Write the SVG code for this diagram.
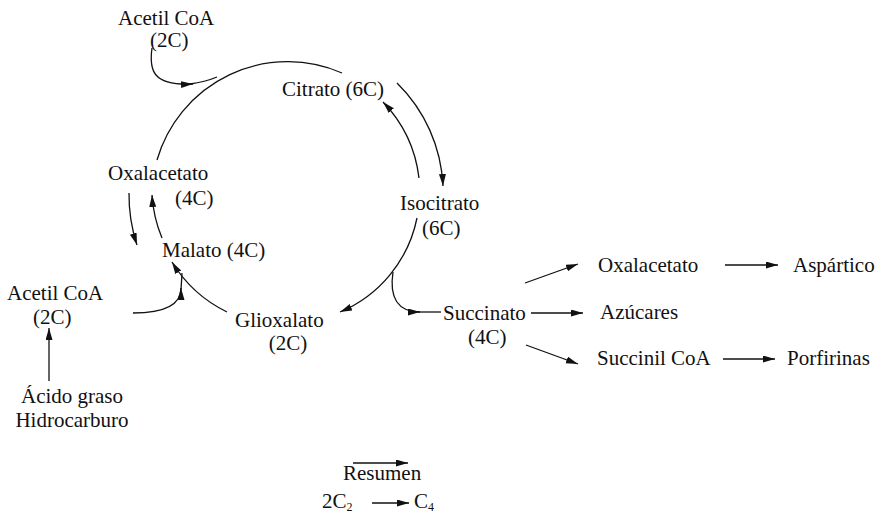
<svg xmlns="http://www.w3.org/2000/svg" width="883" height="515" viewBox="0 0 883 515">
<style>
text{font-family:"Liberation Serif","DejaVu Serif",serif;font-size:21px;fill:#111}
.c{fill:none;stroke:#111;stroke-width:1.3}
.sub{font-size:12px}
</style>
<defs>
<marker id="ah" markerUnits="userSpaceOnUse" markerWidth="13" markerHeight="8" refX="12" refY="3.5" orient="auto">
<path d="M0,0 L12,3.5 L0,7 Z" fill="#111"/>
</marker>
</defs>
<rect width="883" height="515" fill="#fff"/>
<g id="connectors">
<path class="c" d="M157,160 A136,136 0 0 1 342,73"/>
<path class="c" d="M152,48 C149,70 152,86 193,84" marker-end="url(#ah)"/>
<path class="c" d="M190,84 Q205,82 217,77"/>
<path class="c" d="M397,83 A154,154 0 0 1 443,186" marker-end="url(#ah)"/>
<path class="c" d="M419,178 A132,132 0 0 0 383,102" marker-end="url(#ah)"/>
<path class="c" d="M417,218 A130,130 0 0 1 340,312" marker-end="url(#ah)"/>
<path class="c" d="M393,272 C389,298 398,312 420,312" marker-end="url(#ah)"/>
<path class="c" d="M418,312 L441,312"/>
<path class="c" d="M227,312 A133,133 0 0 1 172,262" marker-end="url(#ah)"/>
<path class="c" d="M162,238 A133,133 0 0 1 152,195" marker-end="url(#ah)"/>
<path class="c" d="M129,193 A160,160 0 0 0 137,245" marker-end="url(#ah)"/>
<path class="c" d="M133,313 C162,313 181,306 181,288" marker-end="url(#ah)"/>
<path class="c" d="M181,290 L182,273"/>
<path class="c" d="M49,381 L49,328" marker-end="url(#ah)"/>
<path class="c" d="M525,283 L578,264" marker-end="url(#ah)"/>
<path class="c" d="M531,313 L583,313" marker-end="url(#ah)"/>
<path class="c" d="M526,345 L578,364" marker-end="url(#ah)"/>
<path class="c" d="M725,265 L778,265" marker-end="url(#ah)"/>
<path class="c" d="M723,359 L775,359" marker-end="url(#ah)"/>
<path class="c" d="M353,463 L408,463" marker-end="url(#ah)"/>
<path class="c" d="M372,503 L409,503" marker-end="url(#ah)"/>
</g>
<g id="acetilcoa-top"><text x="118" y="25">Acetil CoA</text><text x="150" y="47">(2C)</text></g>
<g id="citrato"><text x="282" y="96">Citrato (6C)</text></g>
<g id="isocitrato"><text x="400" y="210">Isocitrato</text><text x="422" y="235">(6C)</text></g>
<g id="oxalacetato"><text x="108" y="180">Oxalacetato</text><text x="175" y="205">(4C)</text></g>
<g id="malato"><text x="162" y="257">Malato (4C)</text></g>
<g id="glioxalato"><text x="235" y="327">Glioxalato</text><text x="288" y="350" text-anchor="middle">(2C)</text></g>
<g id="acetilcoa-left"><text x="7" y="300">Acetil CoA</text><text x="33" y="324">(2C)</text></g>
<g id="acido"><text x="72" y="403" text-anchor="middle">Ácido graso</text><text x="72" y="427" text-anchor="middle">Hidrocarburo</text></g>
<g id="succinato"><text x="443" y="320">Succinato</text><text x="468" y="344">(4C)</text></g>
<g id="oxalacetato2"><text x="598" y="272">Oxalacetato</text></g>
<g id="aspartico"><text x="793" y="272">Aspártico</text></g>
<g id="azucares"><text x="600" y="319">Azúcares</text></g>
<g id="succinilcoa"><text x="597" y="365">Succinil CoA</text></g>
<g id="porfirinas"><text x="787" y="365">Porfirinas</text></g>
<g id="resumen"><text x="343" y="480">Resumen</text><text x="322" y="508">2C<tspan class="sub" dy="3">2</tspan></text><text x="414" y="508">C<tspan class="sub" dy="3">4</tspan></text></g>
</svg>
